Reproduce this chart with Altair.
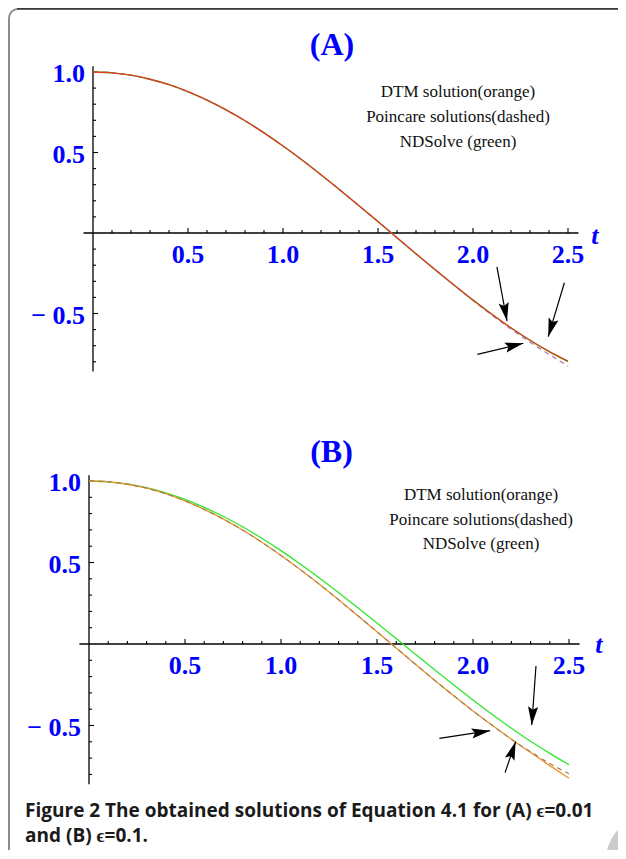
import math
import altair as alt
import pandas as pd

# ---------------- values ----------------
T = [0.0, 0.1, 0.2, 0.3, 0.4, 0.5, 0.6, 0.7, 0.8, 0.9, 1.0, 1.1, 1.2,
     1.3, 1.4, 1.5, 1.6, 1.7, 1.8, 1.9, 2.0, 2.1, 2.2, 2.3, 2.4, 2.5]

# Panel (A)  epsilon = 0.01
A_DTM = [1.000, 0.995, 0.980, 0.955, 0.921, 0.878, 0.825, 0.765, 0.697, 0.622,
         0.540, 0.454, 0.362, 0.267, 0.170, 0.071, -0.029, -0.129, -0.227, -0.323,
         -0.416, -0.505, -0.589, -0.666, -0.735, -0.796]
A_NDSOLVE = [1.000, 0.995, 0.980, 0.955, 0.921, 0.877, 0.825, 0.765, 0.697, 0.622,
             0.540, 0.453, 0.362, 0.266, 0.169, 0.070, -0.030, -0.130, -0.228, -0.324,
             -0.417, -0.506, -0.590, -0.667, -0.737, -0.799]
A_POINCARE = [1.000, 0.995, 0.980, 0.955, 0.921, 0.878, 0.825, 0.765, 0.697, 0.622,
              0.540, 0.454, 0.362, 0.267, 0.170, 0.071, -0.029, -0.129, -0.227, -0.323,
              -0.419, -0.511, -0.597, -0.678, -0.754, -0.826]

# Panel (B)  epsilon = 0.1
B_DTM = [1.000, 0.995, 0.980, 0.956, 0.922, 0.878, 0.826, 0.766, 0.699, 0.624,
         0.543, 0.457, 0.366, 0.271, 0.174, 0.075, -0.024, -0.124, -0.222, -0.318,
         -0.411, -0.499, -0.584, -0.666, -0.746, -0.824]
B_NDSOLVE = [1.000, 0.995, 0.982, 0.959, 0.927, 0.887, 0.838, 0.782, 0.719, 0.649,
             0.573, 0.491, 0.405, 0.315, 0.223, 0.129, 0.033, -0.063, -0.158, -0.252,
             -0.344, -0.433, -0.517, -0.597, -0.671, -0.741]
B_POINCARE = [1.000, 0.995, 0.980, 0.956, 0.922, 0.878, 0.826, 0.766, 0.699, 0.624,
              0.543, 0.457, 0.366, 0.271, 0.174, 0.075, -0.024, -0.124, -0.222, -0.318,
              -0.411, -0.499, -0.584, -0.661, -0.733, -0.796]

X_MAJOR = [0.5, 1.0, 1.5, 2.0, 2.5]
X_LABELS = ["0.5", "1.0", "1.5", "2.0", "2.5"]
X_MINOR = [0.1, 0.2, 0.3, 0.4, 0.6, 0.7, 0.8, 0.9, 1.1, 1.2, 1.3, 1.4,
           1.6, 1.7, 1.8, 1.9, 2.1, 2.2, 2.3, 2.4]
Y_MAJOR = [1.0, 0.5, -0.5]
Y_LABELS = ["1.0", "0.5", "\u2212 0.5"]
Y_MINOR = [0.9, 0.8, 0.7, 0.6, 0.4, 0.3, 0.2, 0.1,
           -0.1, -0.2, -0.3, -0.4, -0.6, -0.7, -0.8]
X_AXIS_SPAN = [-0.05, 2.555]
Y_AXIS_SPAN = [-0.86, 1.035]

LEGEND_LINES = ["DTM solution(orange)", "Poincare solutions(dashed)", "NDSolve (green)"]
CAPTION = ["Figure 2 The obtained solutions of Equation 4.1 for (A) \u03f5=0.01",
           "and (B) \u03f5=0.1."]

# annotation anchors in data units (t, y)
A_TITLE_AT = (1.258, 1.106)
B_TITLE_AT = (1.263, 1.117)
A_LEGEND_AT = (1.921, 0.843)
B_LEGEND_AT = (2.042, 0.883)
A_TLABEL_AT = (2.642, -0.068)
B_TLABEL_AT = (2.656, -0.055)
CAPTION_AT = (-0.333, -1.061)   # in panel (B) units

# arrows: (t_tail, y_tail, t_tip, y_tip)
A_ARROWS = [(2.126, -0.211, 2.179, -0.547),
            (2.481, -0.309, 2.396, -0.644),
            (2.023, -0.754, 2.265, -0.685)]
B_ARROWS = [(2.328, -0.135, 2.306, -0.497),
            (1.825, -0.579, 2.089, -0.532),
            (2.167, -0.789, 2.222, -0.599)]

# ---------------- layout ----------------
W, H = 610, 842
BLUE = "#0000ff"
SERIF = "Liberation Serif"
HEAD = "M0,0 L0.55,2 L0,1.65 L-0.55,2 Z"


def one(t, y, **kw):
    d = {"t": t, "y": y}
    d.update(kw)
    return pd.DataFrame([d])


def panel(ox, px, oy, py, series, arrows, title, title_at, legend_at, tlabel_at, extra=()):
    xs = alt.Scale(domain=[-ox / px, (W - ox) / px], nice=False, zero=False)
    ys = alt.Scale(domain=[(oy - H) / py, oy / py], nice=False, zero=False)

    def X(f):
        return alt.X(f, type="quantitative", scale=xs, axis=None)

    def Y(f):
        return alt.Y(f, type="quantitative", scale=ys, axis=None)

    layers = []
    # axes
    layers.append(alt.Chart(pd.DataFrame({"t0": [X_AXIS_SPAN[0]], "t1": [X_AXIS_SPAN[1]], "z": [0.0]}))
                  .mark_rule(color="black", strokeWidth=1.3)
                  .encode(x=X("t0"), x2="t1", y=Y("z")))
    layers.append(alt.Chart(pd.DataFrame({"y0": [Y_AXIS_SPAN[0]], "y1": [Y_AXIS_SPAN[1]], "z": [0.0]}))
                  .mark_rule(color="black", strokeWidth=1.3)
                  .encode(x=X("z"), y=Y("y0"), y2="y1"))
    # ticks
    layers.append(alt.Chart(pd.DataFrame({"t": X_MAJOR, "z": 0.0}))
                  .mark_rule(color="black", strokeWidth=1.1, y2Offset=-5)
                  .encode(x=X("t"), y=Y("z"), y2="z"))
    layers.append(alt.Chart(pd.DataFrame({"t": X_MINOR, "z": 0.0}))
                  .mark_rule(color="black", strokeWidth=1.1, y2Offset=-3)
                  .encode(x=X("t"), y=Y("z"), y2="z"))
    layers.append(alt.Chart(pd.DataFrame({"v": Y_MAJOR, "z": 0.0}))
                  .mark_rule(color="black", strokeWidth=1.1, x2Offset=5)
                  .encode(y=Y("v"), x=X("z"), x2="z"))
    layers.append(alt.Chart(pd.DataFrame({"v": Y_MINOR, "z": 0.0}))
                  .mark_rule(color="black", strokeWidth=1.1, x2Offset=3)
                  .encode(y=Y("v"), x=X("z"), x2="z"))
    # tick labels
    layers.append(alt.Chart(pd.DataFrame({"t": X_MAJOR, "z": 0.0, "lab": X_LABELS}))
                  .mark_text(font=SERIF, fontSize=26, fontWeight="bold", color=BLUE,
                             align="center", baseline="alphabetic", dy=30)
                  .encode(x=X("t"), y=Y("z"), text="lab:N"))
    layers.append(alt.Chart(pd.DataFrame({"v": Y_MAJOR, "z": 0.0, "lab": Y_LABELS}))
                  .mark_text(font=SERIF, fontSize=26, fontWeight="bold", color=BLUE,
                             align="right", baseline="alphabetic", dx=-8, dy=10)
                  .encode(x=X("z"), y=Y("v"), text="lab:N"))
    # curves
    for vals, color, dash, width in series:
        df = pd.DataFrame({"t": T, "y": vals})
        kw = dict(color=color, strokeWidth=width, interpolate="monotone")
        if dash:
            kw["strokeDash"] = dash
        layers.append(alt.Chart(df).mark_line(**kw).encode(x=X("t"), y=Y("y")))
    # arrows
    rows = []
    for t0, y0, t1, y1 in arrows:
        dx = (t1 - t0) * px
        dy = -(y1 - y0) * py
        rows.append({"t0": t0, "y0": y0, "t1": t1, "y1": y1,
                     "ang": math.degrees(math.atan2(dx, -dy)) % 360})
    adf = pd.DataFrame(rows)
    layers.append(alt.Chart(adf).mark_rule(color="black", strokeWidth=1.2)
                  .encode(x=X("t0"), y=Y("y0"), x2="t1", y2="y1"))
    layers.append(alt.Chart(adf).mark_point(shape=HEAD, filled=True, size=340, color="black", opacity=1)
                  .encode(x=X("t1"), y=Y("y1"), angle=alt.Angle("ang:Q", scale=None)))
    # title, legend text, t label
    layers.append(alt.Chart(one(*title_at)).mark_text(text=title, font=SERIF, fontSize=32, fontWeight="bold",
                                                       color=BLUE, align="center", baseline="alphabetic")
                  .encode(x=X("t"), y=Y("y")))
    layers.append(alt.Chart(one(*legend_at)).mark_text(text=LEGEND_LINES, font=SERIF, fontSize=17,
                                                        color="#111111", align="center",
                                                        baseline="alphabetic", lineHeight=24.7)
                  .encode(x=X("t"), y=Y("y")))
    layers.append(alt.Chart(one(*tlabel_at)).mark_text(text="t", font=SERIF, fontSize=26, fontWeight="bold",
                                                        fontStyle="italic", color=BLUE, align="center",
                                                        baseline="alphabetic")
                  .encode(x=X("t"), y=Y("y")))
    for e in extra:
        layers.append(e(X, Y))
    return alt.layer(*layers)


def caption_layer(X, Y):
    return (alt.Chart(one(*CAPTION_AT))
            .mark_text(text=CAPTION, font="Open Sans", fontSize=19, fontWeight="bold",
                       color="#1a1a1a", align="left", baseline="alphabetic", lineHeight=25)
            .encode(x=X("t"), y=Y("y")))


panel_a = panel(85, 190, 225, 161,
                [(A_NDSOLVE, "#2ee82e", None, 1.3),
                 (A_POINCARE, "#b66ab6", [5, 4], 1.2),
                 (A_DTM, "#dc3d1a", None, 1.3)],
                A_ARROWS, "(A)", A_TITLE_AT, A_LEGEND_AT, A_TLABEL_AT)

panel_b = panel(81, 192, 636, 163,
                [(B_NDSOLVE, "#2ee82e", None, 1.3),
                 (B_DTM, "#f39020", None, 1.3),
                 (B_POINCARE, "#9a8660", [5, 4], 1.2)],
                B_ARROWS, "(B)", B_TITLE_AT, B_LEGEND_AT, B_TLABEL_AT, extra=(caption_layer,))

# decorative page frame and corner swoosh
frame = alt.Chart(pd.DataFrame({"k": [0]})).mark_rect(
    fillOpacity=0, stroke="#8c8c8c", strokeWidth=2, cornerRadius=9
).encode(x=alt.value(1), x2=alt.value(800), y=alt.value(1), y2=alt.value(1000))
top_edge = alt.Chart(pd.DataFrame({"k": [0]})).mark_rule(color="#3a3a3a", strokeWidth=1.6).encode(
    x=alt.value(9), x2=alt.value(700), y=alt.value(0.8))
swoosh = alt.Chart(pd.DataFrame({"k": [0]})).mark_arc(
    radius=44, radius2=31, theta=4.4, theta2=6.0, color="#cbcbcb"
).encode(x=alt.value(642), y=alt.value(852))

chart = alt.layer(panel_a, panel_b, frame, top_edge, swoosh).resolve_scale(
    x="independent", y="independent"
).properties(
    width=W, height=H, autosize=alt.AutoSizeParams(type="none"), padding=0, background="white"
).configure_view(stroke=None)

chart.save("out.html", embed_options={"renderer": "svg", "actions": False})
